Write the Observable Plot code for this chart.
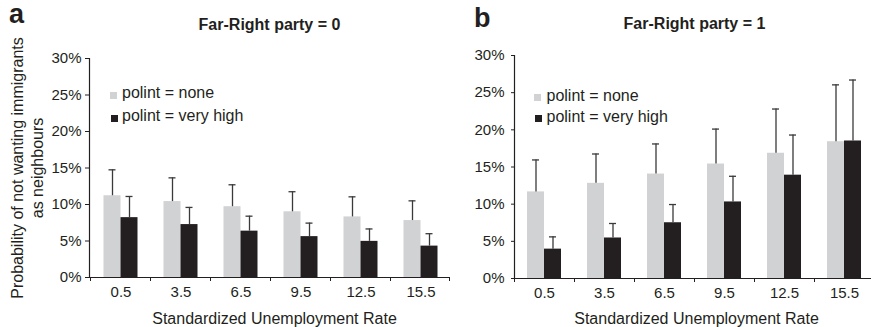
<!DOCTYPE html>
<html>
<head>
<meta charset="utf-8">
<script src="https://cdn.jsdelivr.net/npm/d3@7"></script>
<script src="https://cdn.jsdelivr.net/npm/@observablehq/plot@0.6"></script>
<style>
  html, body { margin: 0; padding: 0; background: #fff; overflow: hidden; }
  #wrap { position: relative; width: 871px; height: 327px; overflow: hidden; font-family: "Liberation Sans", Arial, sans-serif; color: #231f20; }
  .abs { position: absolute; }
  .letter { font-weight: bold; font-size: 27px; line-height: 27px; }
  .sq { position: absolute; width: 7px; height: 7px; }
  .lt { position: absolute; font-size: 16px; line-height: 16px; white-space: nowrap; }
</style>
</head>
<body>
<div id="wrap"></div>
<script>
// ---- data (percent) ----
const categories = ["0.5", "3.5", "6.5", "9.5", "12.5", "15.5"];
const yTicks = [0, 5, 10, 15, 20, 25, 30];
const seriesNames = ["polint = none", "polint = very high"];

// Panel a: Far-Right party = 0
const noneA = [11.2, 10.4, 9.7, 9.0, 8.3, 7.8];
const noneUpperA = [14.75, 13.65, 12.7, 11.75, 11.05, 10.5];
const veryHighA = [8.2, 7.25, 6.35, 5.6, 4.95, 4.3];
const veryHighUpperA = [11.1, 9.6, 8.4, 7.45, 6.65, 6.0];

// Panel b: Far-Right party = 1
const noneB = [11.65, 12.8, 14.05, 15.4, 16.85, 18.4];
const noneUpperB = [15.95, 16.75, 18.1, 20.1, 22.8, 26.05];
const veryHighB = [3.95, 5.45, 7.5, 10.3, 13.9, 18.5];
const veryHighUpperB = [5.6, 7.4, 9.95, 13.75, 19.3, 26.7];

const GRAY = "#d1d2d4";
const BLACK = "#231f20";
const ERR = "#3a3a3a";

function rows(vals, uppers) {
  return categories.map((c, i) => ({cat: c, value: vals[i], upper: uppers[i]}));
}

function panel(o) {
  const none = rows(o.none, o.noneUpper);
  const vh = rows(o.vh, o.vhUpper);
  const s = o.shift; // horizontal shift of the bar pair within each band
  const marks = [
    Plot.barY(none, {x: "cat", y: "value", fill: GRAY, insetLeft: 13 + s, insetRight: 30 - s}),
    Plot.barY(vh, {x: "cat", y: "value", fill: BLACK, insetLeft: 30 + s, insetRight: 13 - s}),
    Plot.ruleX(none, {x: "cat", y1: "value", y2: "upper", dx: -8.5 + s, stroke: ERR, strokeWidth: 1.3}),
    Plot.tickY(none, {x: "cat", y: "upper", insetLeft: 18 + s, insetRight: 35 - s, stroke: ERR, strokeWidth: 1.3}),
    Plot.ruleX(vh, {x: "cat", y1: "value", y2: "upper", dx: 8.5 + s, stroke: ERR, strokeWidth: 1.3}),
    Plot.tickY(vh, {x: "cat", y: "upper", insetLeft: 35 + s, insetRight: 18 - s, stroke: ERR, strokeWidth: 1.3}),
    Plot.ruleY([0], {stroke: BLACK, strokeWidth: 1.2}),
    Plot.ruleX([categories[0]], {x: d => d, y1: 0, y2: 30, dx: -30, stroke: BLACK, strokeWidth: 1.2}),
    Plot.axisY({ticks: yTicks, tickFormat: d => d + "%", tickSize: o.yTickSize, tickPadding: o.yTickPadding, fontSize: 15, stroke: BLACK, fill: BLACK}),
    Plot.axisX({tickSize: 4, tickFormat: () => "", dx: -30 + o.tickShift, stroke: BLACK}),
    Plot.axisX([categories[categories.length - 1]], {tickSize: 4, tickFormat: () => "", dx: 30, stroke: BLACK}),
    Plot.axisX({tickSize: 0, tickPadding: 9, fontSize: 15, fill: BLACK, dx: o.labelShift}),
    Plot.text([o.title], {text: d => d, frameAnchor: "top", lineAnchor: "middle", dy: o.titleDy, fontWeight: "bold", fontSize: 16, fill: BLACK}),
    Plot.text(["Standardized Unemployment Rate"], {text: d => d, frameAnchor: "bottom", lineAnchor: "middle", dx: o.xTitleDx, dy: o.xTitleDy, fontSize: 16, fill: BLACK})
  ];
  if (o.yLabel) {
    marks.push(Plot.text([o.yLabel], {text: d => d, frameAnchor: "left", textAnchor: "middle", lineAnchor: "middle", rotate: -90, dx: -62.5, lineHeight: 1.25, fontSize: 16, fill: BLACK}));
  }
  return Plot.plot({
    width: o.width, height: 327,
    marginLeft: o.marginLeft, marginRight: o.marginRight,
    marginTop: o.marginTop, marginBottom: o.marginBottom,
    x: {domain: categories, padding: 0, label: null},
    y: {domain: [0, 30], label: null},
    style: {background: "none", maxWidth: "none", fontFamily: "Liberation Sans, Arial, sans-serif", fontSize: "15px", color: BLACK, overflow: "visible"},
    marks
  });
}

const wrap = document.getElementById("wrap");

function place(el, left, top) {
  const d = document.createElement("div");
  d.className = "abs";
  d.style.left = left + "px";
  d.style.top = top + "px";
  d.appendChild(el);
  wrap.appendChild(d);
  return d;
}

const left = panel({
  none: noneA, noneUpper: noneUpperA, vh: veryHighA, vhUpper: veryHighUpperA,
  title: "Far-Right party = 0", width: 450, marginLeft: 89, marginRight: 1, marginTop: 58, marginBottom: 50,
  yTickSize: 4, yTickPadding: 4, titleDy: -34, xTitleDx: 5, xTitleDy: 41,
  shift: 1.5, tickShift: 1, labelShift: 1.5,
  yLabel: "Probability of not wanting immigrants\nas neighbours"
});
place(left, 0, 0);

const right = panel({
  none: noneB, noneUpper: noneUpperB, vh: veryHighB, vhUpper: veryHighUpperB,
  title: "Far-Right party = 1", width: 438, marginLeft: 78, marginRight: 0, marginTop: 55, marginBottom: 49,
  yTickSize: 3, yTickPadding: 7, titleDy: -32, xTitleDx: 2, xTitleDy: 40,
  shift: 0, tickShift: 0, labelShift: 0
});
place(right, 436, 0);

// panel letters
function addText(cls, txt, left, top) {
  const d = document.createElement("div");
  d.className = cls;
  d.style.position = "absolute";
  d.style.left = left + "px";
  d.style.top = top + "px";
  d.textContent = txt;
  wrap.appendChild(d);
}
addText("letter", "a", 9, 1);
addText("letter", "b", 474, 5);

// legends
function legend(sqX, sqY1, sqY2, textX, textTop1, textTop2) {
  const s1 = document.createElement("div");
  s1.className = "sq"; s1.style.left = sqX + "px"; s1.style.top = sqY1 + "px"; s1.style.background = GRAY;
  wrap.appendChild(s1);
  const s2 = document.createElement("div");
  s2.className = "sq"; s2.style.left = (sqX + 0.5) + "px"; s2.style.top = sqY2 + "px"; s2.style.background = BLACK;
  wrap.appendChild(s2);
  addText("lt", seriesNames[0], textX, textTop1);
  addText("lt", seriesNames[1], textX, textTop2);
}
legend(110, 91.5, 115, 122, 85, 108);
legend(534, 94, 114.5, 546.5, 87.5, 108.5);
</script>
</body>
</html>
